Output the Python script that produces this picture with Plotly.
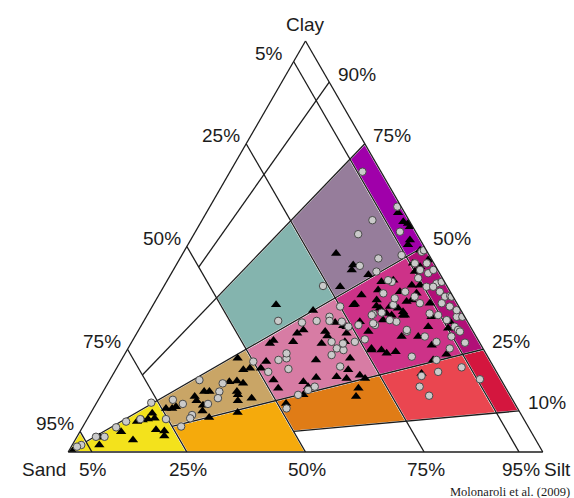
import plotly.graph_objects as go

# ---------------------------------------------------------------
# Texture classification grid (sand %, clay share of the mud %)
# ---------------------------------------------------------------
SAND_LINES = [95, 75, 50, 25, 5]
# clay proportion of the mud fraction -> sand % where the ray stops
RATIO_RAYS = {10: 50, 25: 75, 50: 95, 75: 75, 90: 50}

# coloured classes: sand max, sand min, ratio min, ratio max
CLASS_BOUNDS = [
    (100, 75, 0, 50), (100, 95, 50, 100),
    (75, 50, 0, 25), (75, 50, 25, 50),
    (50, 25, 10, 25), (50, 25, 25, 50), (50, 25, 50, 75),
    (25, 5, 10, 25), (25, 5, 25, 50), (25, 5, 50, 75),
    (5, 0, 10, 25), (5, 0, 25, 50), (5, 0, 50, 75),
]
CLASS_COLORS = [
    "#f3e21c", "#f3e21c",
    "#f5aa0c", "#c9a566",
    "#e07c16", "#d77ca4", "#84b4ae",
    "#ea4650", "#cd3288", "#967d9b",
    "#d4163e", "#b10f78", "#a000aa",
]

# ---------------------------------------------------------------
# Samples (sand, silt, clay in %)
# ---------------------------------------------------------------
circle_sand = [63.6, 59.1, 60.8, 61.9, 71.6, 70.0, 69.4, 70.2, 64.7, 73.1, 75.4, 76.5, 80.8, 84.1, 86.9,
               90.5, 92.3, 96.4, 97.5,
               25.0, 18.9, 17.0, 13.6, 15.0, 14.0, 19.9, 23.4, 23.8, 39.8, 35.0, 31.7, 28.5, 29.0, 26.5,
               25.7, 31.1, 30.8, 29.6, 26.2, 32.7, 32.3, 42.6, 44.5, 43.5, 48.1, 50.0, 40.1, 41.9, 44.6, 48.7,
               12.4, 11.1, 15.9, 13.1, 5.8, 3.3, 1.2, 4.0, 3.7, 1.5, 2.4, 0.9, 5.1, 4.4, 1.9, 2.2, 1.7, 0.5,
               3.2, 1.9, 1.7, 3.3, 3.0, 3.1, 4.2, 5.4, 7.0, 7.8, 8.1, 9.5, 12.5, 11.1, 11.7, 14.3, 19.4, 20.1,
               16.2, 13.8, 10.8, 16.0, 11.2, 7.0, 28.9,
               3.9, 7.7, 0.8, 0.5, 26.1,
               0.6, 3.0, 0.3, 0.9, 0.5, 2.8, 5.2, 9.0,
               16.3, 18.0, 17.1, 12.3, 6.8, 4.4, 42.0]
circle_silt = [18.9, 24.2, 24.5, 25.0, 15.7, 18.3, 21.6, 21.6, 23.6, 20.7, 16.6, 11.5, 11.2, 8.5, 7.1,
               5.8, 4.0, 1.9, 1.2,
               39.6, 47.5, 49.1, 50.6, 53.3, 56.7, 49.2, 45.7, 48.8, 28.3, 33.5, 36.4, 38.6, 39.1, 41.8,
               43.8, 42.1, 44.0, 45.6, 47.0, 43.7, 46.9, 34.6, 33.1, 36.3, 32.4, 28.0, 44.0, 43.0, 41.5, 40.7,
               34.6, 41.8, 38.8, 43.0, 46.3, 43.1, 50.1, 50.1, 52.0, 52.6, 54.1, 54.8, 52.6, 55.4, 57.1, 58.8,
               60.5, 61.5, 60.6, 62.7, 65.4, 66.2, 67.3, 70.3, 63.7, 61.3, 59.3, 56.0, 54.1, 51.5, 50.1, 47.5,
               46.5, 47.1, 47.3, 48.6, 51.7, 56.5, 61.1, 60.8, 66.4, 67.8, 44.7,
               27.9, 35.9, 39.5, 50.4, 33.5,
               58.0, 56.8, 61.9, 64.6, 66.6, 67.9, 66.7, 64.2,
               65.2, 66.1, 69.2, 68.2, 72.6, 77.9, 34.0]
circle_clay = [17.5, 16.7, 14.7, 13.1, 12.7, 11.7, 9.0, 8.2, 11.7, 6.2, 8.0, 12.0, 8.0, 7.4, 6.0,
               3.7, 3.7, 1.7, 1.3,
               35.4, 33.6, 33.9, 35.8, 31.7, 29.3, 30.9, 30.9, 27.4, 31.9, 31.5, 31.9, 32.9, 31.9, 31.7,
               30.5, 26.8, 25.2, 24.8, 26.8, 23.6, 20.8, 22.8, 22.4, 20.2, 19.5, 22.0, 15.9, 15.1, 13.9, 10.6,
               53.0, 47.1, 45.3, 43.9, 47.9, 53.6, 48.7, 45.9, 44.3, 45.9, 43.5, 44.3, 42.3, 40.2, 41.0, 39.0,
               37.8, 38.0, 36.2, 35.4, 32.9, 30.5, 29.7, 26.6, 32.1, 33.3, 33.7, 36.2, 37.8, 39.0, 37.4, 41.4,
               41.8, 38.6, 33.3, 31.3, 32.1, 29.7, 28.1, 23.2, 22.4, 25.2, 26.4,
               68.2, 56.4, 59.7, 49.1, 40.4,
               41.4, 40.2, 37.8, 34.5, 32.9, 29.3, 28.1, 26.8,
               18.5, 15.9, 13.7, 19.5, 20.6, 17.7, 24.0]

tri_sand = [52.9, 57.5, 55.8, 62.9, 64.0, 66.6, 66.7, 57.3, 58.0, 71.8, 72.8, 74.1, 65.9, 66.7, 66.1,
            59.5, 77.6, 77.7, 79.2, 80.4, 81.8, 78.8, 77.2, 77.8, 86.4, 84.9, 91.6, 92.6, 99.0,
            38.3, 21.6, 17.3, 16.1, 15.2, 12.8, 31.2, 28.0, 26.7, 35.6, 37.3, 39.2, 43.2, 44.3, 31.2,
            31.3, 33.4, 26.9, 28.3, 22.1, 29.2, 31.0, 36.6, 47.3, 49.2, 48.0, 48.0, 41.9, 38.7, 34.3,
            41.5, 43.5, 48.2, 29.2, 28.5, 31.1, 32.6, 23.7, 21.6, 20.9, 18.8, 53.1, 51.5, 54.8, 54.8,
            0.6, 2.2, 3.2, 17.2, 18.1, 15.2, 13.3, 10.6, 10.6, 15.0, 19.1, 22.0, 16.5, 16.8, 14.5, 13.0,
            12.4, 10.4, 9.1, 7.3, 7.3, 5.6, 5.7, 7.0, 12.4, 17.6, 22.7, 26.1, 23.5, 10.4, 4.9, 3.7, 3.3, 0.8,
            19.4, 1.4, 1.4, 0.6, 1.3, 22.6,
            4.4, 5.0, 8.9, 11.9, 16.0,
            8.4, 12.2, 15.7, 32.4, 57.1]
tri_silt = [24.3, 25.4, 26.9, 22.4, 21.3, 19.9, 20.8, 28.8, 29.5, 17.2, 16.6, 15.3, 22.7, 23.3, 25.5,
            30.9, 13.0, 14.1, 12.8, 11.8, 10.8, 15.8, 17.7, 18.3, 8.7, 12.2, 4.8, 5.7, 0.8,
            25.9, 42.4, 47.2, 50.2, 51.5, 53.9, 34.4, 40.5, 42.6, 34.7, 33.8, 34.0, 29.7, 29.3, 39.5,
            40.5, 40.2, 44.2, 44.9, 48.6, 48.0, 49.0, 41.0, 30.7, 30.4, 34.5, 36.5, 41.0, 43.2, 47.4,
            42.6, 42.6, 40.0, 52.1, 53.6, 53.4, 53.9, 51.5, 53.6, 55.1, 56.8, 26.9, 28.1, 28.5, 32.1,
            43.8, 46.2, 46.4, 37.3, 37.6, 41.7, 45.3, 47.6, 50.4, 45.6, 42.7, 42.2, 46.5, 48.2, 50.1, 52.0,
            53.5, 53.0, 53.9, 54.1, 52.1, 53.8, 58.1, 60.1, 54.3, 50.3, 45.6, 43.4, 51.3, 63.6, 65.0, 64.6,
            51.6, 52.5,
            32.3, 40.4, 42.6, 44.6, 49.6, 37.2,
            49.7, 51.1, 60.6, 65.7, 64.9,
            67.8, 59.7, 56.2, 49.7, 28.2]
tri_clay = [22.8, 17.1, 17.3, 14.7, 14.7, 13.5, 12.5, 13.9, 12.5, 11.0, 10.6, 10.6, 11.4, 10.0, 8.4,
            9.6, 9.4, 8.2, 8.0, 7.8, 7.4, 5.4, 5.1, 3.9, 4.9, 2.9, 3.6, 1.7, 0.2,
            35.8, 36.0, 35.5, 33.7, 33.3, 33.3, 34.4, 31.5, 30.7, 29.7, 28.9, 26.8, 27.1, 26.4, 29.3,
            28.2, 26.4, 28.9, 26.8, 29.3, 22.8, 20.0, 22.4, 22.0, 20.4, 17.5, 15.5, 17.1, 18.1, 18.3,
            15.9, 13.9, 11.8, 18.7, 17.9, 15.5, 13.5, 24.8, 24.8, 24.0, 24.4, 20.0, 20.4, 16.7, 13.1,
            55.6, 51.6, 50.4, 45.5, 44.3, 43.1, 41.4, 41.8, 39.0, 39.4, 38.2, 35.8, 37.0, 35.0, 35.4, 35.0,
            34.1, 36.6, 37.0, 38.6, 40.6, 40.6, 36.2, 32.9, 33.3, 32.1, 31.7, 30.5, 25.2, 26.0, 30.1, 31.7,
            45.1, 46.7,
            48.3, 58.2, 56.0, 54.8, 49.1, 40.2,
            45.9, 43.9, 30.5, 22.4, 19.1,
            23.8, 28.1, 28.1, 17.9, 14.7]

LEFT_TICKS = [5, 25, 50, 75, 95]      # sand %
RIGHT_TICKS = [90, 75, 50, 25, 10]    # clay share of mud %
BOTTOM_TICKS = [5, 25, 50, 75, 95]    # silt %

INK = "#1c1c1c"
LABEL_FONT = dict(family="Liberation Sans, Arial, sans-serif", size=19, color=INK)


def point(sand, ratio):
    """Composition (sand, silt, clay) for a sand % and a clay share of the mud."""
    mud = 100.0 - sand
    clay = mud * ratio / 100.0
    return sand, mud - clay, clay


fig = go.Figure()

# class fills
for (s_hi, s_lo, r_lo, r_hi), color in zip(CLASS_BOUNDS, CLASS_COLORS):
    corners = [point(s_hi, r_lo), point(s_lo, r_lo), point(s_lo, r_hi), point(s_hi, r_hi),
               point(s_hi, r_lo)]
    fig.add_trace(go.Scatterternary(
        b=[c[0] for c in corners], c=[c[1] for c in corners], a=[c[2] for c in corners],
        mode="lines", fill="toself", fillcolor=color,
        line=dict(color="white", width=2), hoverinfo="skip"))

# grid: constant-sand lines and clay-ratio rays
ga, gb, gc = [], [], []
for s in SAND_LINES:
    for p in (point(s, 0), point(s, 100)):
        gb.append(p[0]); gc.append(p[1]); ga.append(p[2])
    ga.append(None); gb.append(None); gc.append(None)
for r, s_max in RATIO_RAYS.items():
    for p in (point(s_max, r), point(0, r)):
        gb.append(p[0]); gc.append(p[1]); ga.append(p[2])
    ga.append(None); gb.append(None); gc.append(None)
fig.add_trace(go.Scatterternary(a=ga, b=gb, c=gc, mode="lines",
                                line=dict(color=INK, width=1.3), hoverinfo="skip"))

# samples
fig.add_trace(go.Scatterternary(
    a=tri_clay, b=tri_sand, c=tri_silt, mode="markers",
    marker=dict(symbol="triangle-up", size=9, color="black", line=dict(width=0))))
fig.add_trace(go.Scatterternary(
    a=circle_clay, b=circle_sand, c=circle_silt, mode="markers",
    marker=dict(symbol="circle", size=7.5, color="#cacaca", line=dict(color="#4a4a4a", width=1))))


def paper_xy(sand, silt, clay):
    return (silt + clay / 2.0) / 100.0, clay / 100.0


annotations = []


def label(text, comp, dx, dy, xanchor="center", font=LABEL_FONT):
    x, y = paper_xy(*comp)
    annotations.append(dict(text=text, x=x, y=y, xref="paper", yref="paper",
                            xanchor=xanchor, yanchor="middle", xshift=dx, yshift=dy,
                            showarrow=False, font=font))


for s in LEFT_TICKS:
    label(f"{s}%", (s, 0, 100 - s), -25, 8)
for r in RIGHT_TICKS:
    label(f"{r}%", (0, 100 - r, r), 27.5, 8)
for t in BOTTOM_TICKS:
    label(f"{t}%", (100 - t, t, 0), 1.5, -17.5)

label("Clay", (0, 0, 100), 0, 17)
label("Sand", (100, 0, 0), 0, -17, xanchor="right")
label("Silt", (0, 100, 0), -1, -17, xanchor="left")

annotations.append(dict(text="Molonaroli et al. (2009)", x=1, y=0, xref="paper", yref="paper",
                        xanchor="right", yanchor="middle", xshift=29, yshift=-40, showarrow=False,
                        font=dict(family="Liberation Serif, Times New Roman, serif", size=12.5,
                                  color=INK)))

axis_style = dict(showgrid=False, showticklabels=False, ticks="", showline=True,
                  linecolor=INK, linewidth=1.3, title=dict(text=""), min=0)

fig.update_layout(
    width=574, height=498,
    margin=dict(l=68, r=31, t=41, b=46),
    paper_bgcolor="white",
    showlegend=False,
    ternary=dict(sum=100, bgcolor="white", domain=dict(x=[0, 1], y=[0, 1]),
                 aaxis=axis_style, baxis=axis_style, caxis=axis_style),
    annotations=annotations,
)

fig.write_html("out.html")
